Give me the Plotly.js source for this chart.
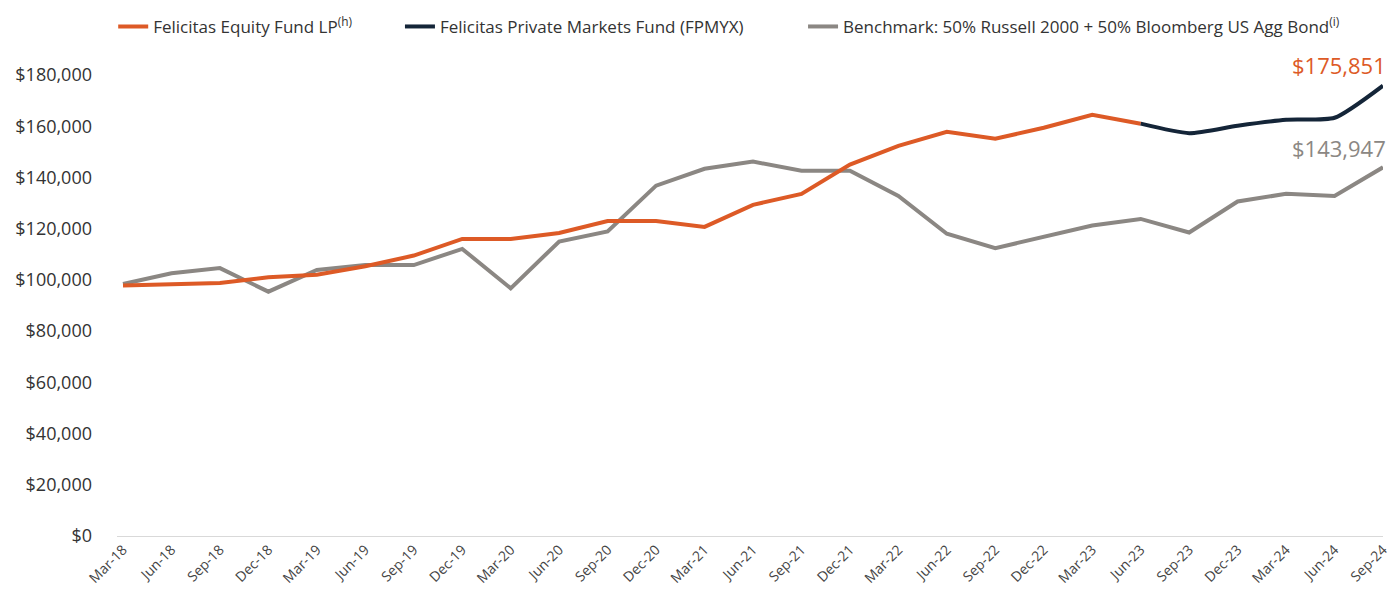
<!DOCTYPE html>
<html><head><meta charset="utf-8">
<script src="https://cdn.plot.ly/plotly-3.0.1.min.js"></script>
<style>html,body{margin:0;padding:0;background:#fff}#chart{width:1390px;height:598px}</style>
</head><body><div id="chart"></div>
<script>
const quarters = ["Mar-18","Jun-18","Sep-18","Dec-18","Mar-19","Jun-19","Sep-19","Dec-19","Mar-20","Jun-20","Sep-20","Dec-20","Mar-21","Jun-21","Sep-21","Dec-21","Mar-22","Jun-22","Sep-22","Dec-22","Mar-23","Jun-23","Sep-23","Dec-23","Mar-24","Jun-24","Sep-24"];
const equityFund = [97800,98200,98800,101000,102000,105300,109500,116000,116000,118300,123000,123000,120700,129300,133600,145000,152300,157800,155100,159400,164500,161000,null,null,null,null,null];
const privateMarkets = [null,null,null,null,null,null,null,null,null,null,null,null,null,null,null,null,null,null,null,null,null,161000,157300,160200,162500,163300,175851];
const benchmark = [98400,102600,104600,95400,103900,105800,105800,112100,96700,115000,118900,136800,143400,146200,142600,142600,132800,118000,112400,116900,121200,123800,118500,130600,133600,132800,143947];
const names = ["Felicitas Equity Fund LP<sup>(h)</sup>","Felicitas Private Markets Fund (FPMYX)","Benchmark: 50% Russell 2000 + 50% Bloomberg US Agg Bond<sup>(i)</sup>"];
const yTicks = [0,20000,40000,60000,80000,100000,120000,140000,160000,180000];

const ORANGE = "#DD5A26", NAVY = "#142538", GRAY = "#8B8783";
const fmt = v => "$" + v.toLocaleString("en-US");

const traces = [
  {x: quarters, y: benchmark, name: names[2], type: "scatter", mode: "lines", line: {color: GRAY, width: 4}, legend: "legend3", cliponaxis: false},
  {x: quarters, y: equityFund, name: names[0], type: "scatter", mode: "lines", line: {color: ORANGE, width: 4}, legend: "legend", cliponaxis: false},
  {x: quarters, y: privateMarkets, name: names[1], type: "scatter", mode: "lines", line: {color: NAVY, width: 4, shape: "spline", smoothing: 0.6}, legend: "legend2", cliponaxis: false}
];
const legFont = {family: "Open Sans, sans-serif", size: 17, color: "#333"};
const legBase = {orientation: "h", yanchor: "middle", xanchor: "left", xref: "paper", yref: "container", y: 0.955, font: legFont, bgcolor: "rgba(0,0,0,0)", itemwidth: 30};
const last = quarters.length - 1;
const layout = {
  width: 1390, height: 598,
  margin: {l: 117, r: 7, t: 75, b: 62},
  paper_bgcolor: "#fff", plot_bgcolor: "#fff",
  font: {family: "Open Sans, sans-serif", color: "#333"},
  showlegend: true,
  legend: Object.assign({}, legBase, {x: -0.003}),
  legend2: Object.assign({}, legBase, {x: 0.2235}),
  legend3: Object.assign({}, legBase, {x: 0.5419}),
  xaxis: {type: "category", range: [-0.124, 26.0], showgrid: false, zeroline: false, showline: false,
    tickangle: -45, tickfont: {size: 14, color: "#444"}, ticks: "", ticklabelstandoff: 2},
  yaxis: {range: [0, 180000], tickvals: yTicks, ticktext: yTicks.map(fmt), showgrid: false, zeroline: true, zerolinecolor: "#d9d9d9", zerolinewidth: 1,
    showline: false, ticks: "", tickfont: {size: 18, color: "#333"}, ticklabelstandoff: 24},
  annotations: [
    {x: quarters[last], y: privateMarkets[last], text: fmt(privateMarkets[last]), showarrow: false, xanchor: "right", yanchor: "bottom", yshift: 4, xshift: 5, font: {size: 22, color: ORANGE}},
    {x: quarters[last], y: benchmark[last], text: fmt(benchmark[last]), showarrow: false, xanchor: "right", yanchor: "bottom", yshift: 2, xshift: 5, font: {size: 22, color: GRAY}}
  ]
};
Plotly.newPlot("chart", traces, layout, {displayModeBar: false, staticPlot: true});
</script></body></html>
